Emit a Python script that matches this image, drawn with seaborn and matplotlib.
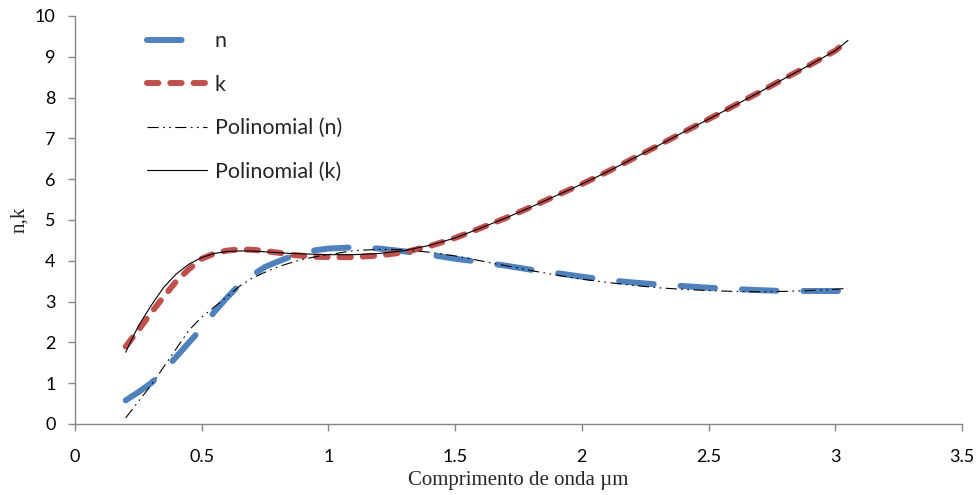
import numpy as np
import pandas as pd
import matplotlib
matplotlib.use("Agg")
import matplotlib.pyplot as plt
import seaborn as sns

# ---- data ----
wavelength = [0.2, 0.25, 0.3, 0.35, 0.4, 0.45, 0.5, 0.55, 0.6, 0.65, 0.7, 0.75, 0.8,
              0.85, 0.9, 0.95, 1.0, 1.1, 1.2, 1.3, 1.4, 1.5, 1.6, 1.7, 1.8, 1.9,
              2.0, 2.1, 2.2, 2.3, 2.4, 2.5, 2.6, 2.7, 2.8, 2.9, 3.0, 3.05]
n_vals = [0.58, 0.78, 1.0, 1.3, 1.65, 2.0, 2.35, 2.75, 3.1, 3.42, 3.65, 3.85, 3.98,
          4.1, 4.2, 4.26, 4.3, 4.33, 4.3, 4.23, 4.15, 4.05, 3.97, 3.88, 3.78, 3.7,
          3.61, 3.53, 3.47, 3.42, 3.38, 3.34, 3.31, 3.28, 3.26, 3.26, 3.26, 3.26]
k_vals = [1.9, 2.3, 2.72, 3.12, 3.5, 3.8, 4.05, 4.18, 4.25, 4.28, 4.27, 4.24, 4.2,
          4.15, 4.12, 4.1, 4.09, 4.09, 4.13, 4.21, 4.36, 4.56, 4.8, 5.05, 5.32, 5.6,
          5.88, 6.18, 6.5, 6.82, 7.15, 7.47, 7.8, 8.13, 8.47, 8.8, 9.15, 9.4]
poly_n = [0.15, 0.55, 0.95, 1.4, 1.85, 2.3, 2.62, 2.87, 3.12, 3.38, 3.58, 3.72, 3.85,
          3.95, 4.04, 4.1, 4.15, 4.25, 4.28, 4.27, 4.21, 4.12, 4.0, 3.88, 3.76, 3.65,
          3.55, 3.47, 3.4, 3.34, 3.3, 3.27, 3.25, 3.24, 3.25, 3.27, 3.3, 3.33]
poly_k = [1.76, 2.4, 2.9, 3.35, 3.68, 3.92, 4.08, 4.18, 4.23, 4.24, 4.24, 4.22, 4.2,
          4.18, 4.17, 4.16, 4.15, 4.15, 4.18, 4.25, 4.38, 4.56, 4.8, 5.05, 5.32, 5.6,
          5.88, 6.18, 6.5, 6.82, 7.15, 7.47, 7.8, 8.13, 8.47, 8.8, 9.15, 9.4]
x_ticks = [0, 0.5, 1, 1.5, 2, 2.5, 3, 3.5]
x_tick_labels = ["0", "0.5", "1", "1.5", "2", "2.5", "3", "3.5"]
y_ticks = list(range(0, 11))

df = pd.DataFrame({"x": wavelength, "n": n_vals, "k": k_vals,
                   "pn": poly_n, "pk": poly_k})

sns.set_theme(style="white")
plt.rcParams["font.family"] = ["Lato", "DejaVu Sans"]

fig = plt.figure(figsize=(9.8, 4.95), dpi=100)
ax = fig.add_axes([75/980, 1-424/495, (962-75)/980, (424-16)/495])

sns.lineplot(data=df, x="x", y="n", ax=ax, color="#4f81bd", lw=4.3,
             linestyle=(0, (5.8, 4.5)), dash_capstyle="round",
             label="n", sort=False)
sns.lineplot(data=df, x="x", y="k", ax=ax, color="#c0504d", lw=4.3,
             linestyle=(0, (1.9, 2.0)), dash_capstyle="round",
             label="k", sort=False)
sns.lineplot(data=df, x="x", y="pn", ax=ax, color="black", lw=0.8,
             linestyle=(0, (10, 4, 1.5, 4, 1.5, 4)),
             label="Polinomial (n)", sort=False)
sns.lineplot(data=df, x="x", y="pk", ax=ax, color="black", lw=0.8,
             linestyle="-", label="Polinomial (k)", sort=False)

ax.set_xlim(0, 3.5)
ax.set_ylim(0, 10)
ax.set_xticks(x_ticks)
ax.set_xticklabels(x_tick_labels)
ax.set_yticks(y_ticks)

for s in ["top", "right"]:
    ax.spines[s].set_visible(False)
for s in ["left", "bottom"]:
    ax.spines[s].set_color("#868686")
    ax.spines[s].set_linewidth(1.0)
ax.tick_params(axis="both", which="major", direction="out", length=5,
               width=1, color="#868686", labelsize=13, labelcolor="black",
               left=True, bottom=True)
ax.tick_params(axis="x", pad=13)
ax.tick_params(axis="y", pad=9)

ax.set_xlabel("Comprimento de onda µm", family=["Liberation Serif"],
              fontsize=15, labelpad=4)
ax.set_ylabel("n,k", family=["Liberation Serif"], fontsize=15, labelpad=4)

leg = ax.legend(loc="upper left", bbox_to_anchor=(0.071, 0.984), frameon=False,
                fontsize=15.5, handlelength=2.8, handletextpad=0.37,
                labelspacing=1.09, borderaxespad=0)

fig.savefig("out.png", dpi=100)
